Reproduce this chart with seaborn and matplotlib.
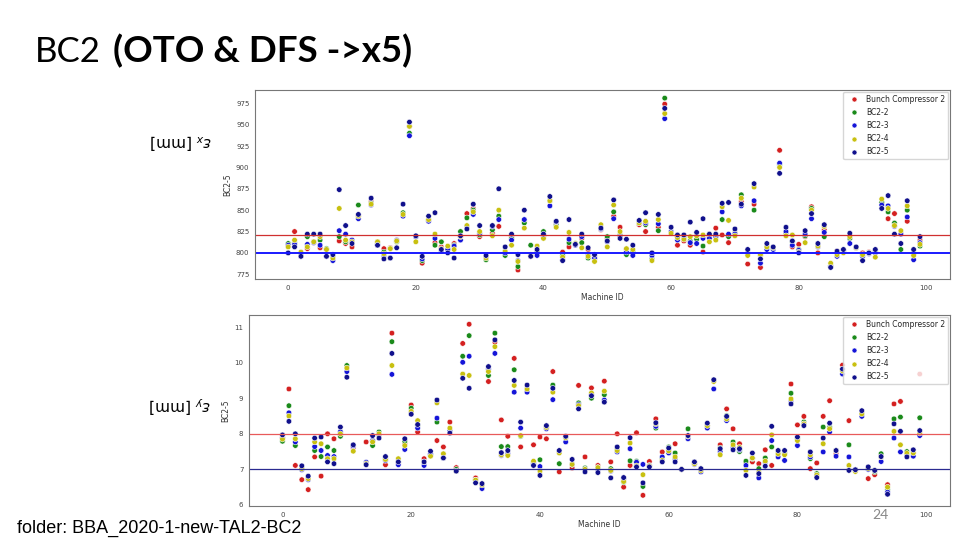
import numpy as np
import pandas as pd
import seaborn as sns
import matplotlib.pyplot as plt

# Machine IDs (ID 12 has no measurement)
machine_id = [i for i in range(100) if i != 12]

series_names = ["Bunch Compressor 2", "BC2-2", "BC2-3", "BC2-4", "BC2-5"]
series_colors = ["#d42020", "#1a8a1a", "#1515d8", "#c8c010", "#10108c"]

# top panel : one row per machine -> (BC2, BC2-2, BC2-3, BC2-4, BC2-5)
top_rows = [
    (808, 811, 809, 807, 800), (825, 812, 810, 815, 807), (796, 797, 796, 801, 796),
    (805, 819, 810, 807, 822), (812, 813, 812, 813, 822), (806, 815, 809, 819, 822),
    (804, 805, 796, 804, 796), (792, 796, 791, 794, 798), (814, 819, 826, 852, 874),
    (811, 813, 822, 815, 832), (807, 813, 815, 813, 811), (843, 856, 840, 843, 845),
    (860, 858, 856, 857, 864), (813, 811, 809, 813, 809), (805, 801, 797, 799, 793),
    (806, 805, 794, 805, 794), (813, 813, 815, 814, 806), (846, 847, 843, 845, 857),
    (948, 940, 937, 948, 953), (819, 819, 819, 813, 820), (788, 791, 793, 796, 796),
    (838, 839, 837, 839, 843), (812, 809, 817, 822, 847), (807, 813, 802, 805, 804),
    (804, 805, 804, 808, 800), (811, 809, 808, 804, 794), (819, 825, 815, 819, 820),
    (846, 841, 831, 832, 828), (852, 850, 845, 848, 857), (819, 821, 823, 825, 832),
    (796, 792, 796, 794, 797), (823, 827, 831, 820, 832), (831, 843, 839, 850, 875),
    (801, 797, 800, 802, 807), (819, 817, 815, 809, 822), (780, 784, 791, 790, 798),
    (837, 835, 839, 829, 850), (796, 809, 797, 798, 796), (799, 801, 797, 808, 804),
    (819, 825, 821, 817, 822), (861, 861, 855, 861, 866), (833, 833, 836, 830, 837),
    (801, 797, 792, 795, 791), (807, 812, 816, 824, 839), (811, 811, 809, 811, 810),
    (817, 812, 819, 806, 822), (804, 794, 798, 796, 806), (796, 793, 794, 790, 798),
    (827, 828, 828, 833, 829), (817, 819, 813, 807, 814), (843, 848, 840, 856, 862),
    (830, 821, 819, 825, 817), (804, 798, 801, 805, 816), (800, 802, 797, 804, 809),
    (833, 835, 837, 835, 838), (825, 833, 835, 837, 847), (800, 793, 797, 791, 800),
    (830, 826, 834, 839, 845), (974, 981, 957, 963, 969), (823, 823, 825, 823, 830),
    (809, 819, 815, 818, 821), (814, 819, 817, 816, 821), (809, 814, 812, 819, 836),
    (819, 816, 811, 820, 824), (801, 808, 817, 821, 840), (819, 822, 817, 813, 822),
    (829, 819, 819, 815, 822), (821, 839, 848, 854, 858), (812, 819, 822, 838, 859),
    (823, 823, 822, 820, 828), (860, 868, 855, 864, 857), (787, 800, 799, 797, 804),
    (857, 850, 861, 877, 881), (783, 797, 788, 798, 793), (807, 807, 804, 807, 811),
    (806, 806, 804, 806, 807), (920, 903, 905, 900, 893), (823, 823, 825, 820, 830),
    (807, 813, 809, 821, 814), (810, 804, 803, 801, 800), (819, 820, 822, 812, 826),
    (854, 852, 840, 850, 846), (800, 809, 807, 808, 811), (827, 819, 824, 831, 833),
    (785, 785, 784, 788, 783), (802, 800, 796, 798, 802), (802, 802, 803, 800, 804),
    (817, 817, 811, 819, 823), (806, 806, 806, 806, 807), (800, 798, 796, 798, 791),
    (801, 800, 799, 800, 800), (802, 802, 800, 795, 804), (859, 859, 856, 863, 852),
    (840, 848, 855, 852, 867), (846, 835, 831, 832, 822), (823, 804, 822, 826, 811),
    (837, 850, 842, 855, 861), (799, 800, 792, 797, 804), (815, 808, 812, 810, 819),
]

# bottom panel
bottom_rows = [
    (7.90, 7.79, 7.88, 7.85, 7.97), (9.26, 8.79, 8.59, 8.50, 8.35), (7.11, 7.67, 7.77, 7.86, 8.00),
    (6.71, 7.03, 6.99, 7.02, 7.10), (6.43, 6.77, 6.71, 6.74, 6.81), (7.35, 7.53, 7.64, 7.77, 7.88),
    (6.81, 7.36, 7.53, 7.72, 7.91), (8.00, 7.63, 7.39, 7.30, 7.21), (7.86, 7.53, 7.36, 7.30, 7.16),
    (8.02, 7.93, 8.06, 8.00, 8.19), (9.85, 9.92, 9.75, 9.85, 9.59), (7.60, 7.67, 7.65, 7.51, 7.69),
    (7.77, 7.16, 7.20, 7.16, 7.13), (7.80, 7.67, 7.81, 7.77, 7.95), (7.98, 8.05, 7.97, 8.00, 7.88),
    (7.13, 7.30, 7.25, 7.28, 7.36), (10.83, 10.59, 9.67, 9.92, 10.26), (7.18, 7.21, 7.13, 7.30, 7.21),
    (7.72, 7.79, 7.56, 7.67, 7.86), (8.81, 8.72, 8.60, 8.63, 8.55), (8.05, 8.23, 8.16, 8.37, 8.26),
    (7.30, 7.21, 7.11, 7.21, 7.21), (7.40, 7.43, 7.43, 7.37, 7.51), (7.81, 8.33, 8.44, 8.87, 8.95),
    (7.63, 7.32, 7.32, 7.44, 7.32), (8.33, 8.09, 8.09, 8.16, 8.02), (7.05, 7.00, 6.95, 6.95, 6.95),
    (10.54, 10.18, 10.01, 9.68, 9.56), (11.08, 10.76, 10.18, 9.64, 9.28), (6.76, 6.70, 6.70, 6.70, 6.62),
    (6.58, 6.58, 6.46, 6.56, 6.60), (9.47, 9.64, 9.82, 9.75, 9.89), (10.58, 10.83, 10.26, 10.45, 10.64),
    (8.39, 7.64, 7.39, 7.41, 7.47), (7.93, 7.64, 7.44, 7.39, 7.53), (10.12, 9.80, 9.17, 9.36, 9.50),
    (7.63, 7.93, 8.16, 7.95, 8.33), (9.22, 9.26, 9.17, 9.26, 9.37), (7.69, 7.20, 7.16, 7.23, 7.11),
    (7.91, 7.27, 7.08, 6.95, 6.83), (7.86, 8.19, 8.14, 8.18, 8.23), (9.75, 9.37, 8.96, 9.17, 9.28),
    (6.93, 7.16, 7.50, 7.46, 7.53), (7.91, 7.89, 7.77, 7.89, 7.93), (7.04, 7.14, 7.14, 7.14, 7.28),
    (9.36, 8.87, 8.82, 8.79, 8.70), (7.35, 7.04, 7.00, 7.00, 6.93), (9.29, 9.00, 9.10, 9.15, 9.07),
    (7.11, 7.05, 7.00, 7.05, 6.91), (9.48, 9.10, 8.95, 9.20, 8.89), (7.21, 7.02, 6.95, 6.97, 6.76),
    (8.00, 7.55, 7.49, 7.53, 7.63), (6.50, 6.64, 6.73, 6.66, 6.77), (7.11, 7.24, 7.58, 7.74, 7.89),
    (8.03, 7.23, 7.20, 7.10, 7.07), (6.27, 6.52, 7.14, 6.85, 6.62), (7.22, 7.10, 7.11, 7.10, 7.07),
    (8.42, 8.16, 8.21, 8.28, 8.31), (7.49, 7.30, 7.35, 7.25, 7.21), (7.55, 7.63, 7.46, 7.52, 7.60),
    (7.72, 7.46, 7.30, 7.35, 7.21), (7.00, 7.00, 7.00, 7.00, 7.00), (7.90, 8.14, 7.86, 7.93, 7.95),
    (7.16, 7.16, 7.14, 7.16, 7.21), (6.97, 7.02, 6.93, 6.97, 7.02), (8.23, 8.23, 8.16, 8.23, 8.30),
    (9.50, 9.50, 9.26, 9.47, 9.52), (7.69, 7.60, 7.50, 7.41, 7.58), (8.70, 8.51, 8.37, 8.42, 8.49),
    (8.14, 7.77, 7.62, 7.69, 7.55), (7.72, 7.50, 7.55, 7.62, 7.58), (7.20, 7.23, 7.11, 6.97, 6.83),
    (7.21, 7.30, 7.32, 7.32, 7.46), (7.16, 7.02, 6.76, 6.92, 6.88), (7.55, 7.32, 7.20, 7.23, 7.09),
    (7.11, 7.63, 7.81, 7.97, 8.21), (7.44, 7.44, 7.35, 7.44, 7.53), (7.44, 7.46, 7.25, 7.41, 7.53),
    (9.40, 9.14, 8.93, 8.98, 8.84), (8.25, 7.86, 7.67, 7.81, 7.91), (8.49, 8.33, 8.28, 8.28, 8.23),
    (7.02, 7.30, 7.35, 7.41, 7.49), (7.18, 6.88, 6.82, 6.84, 6.77), (8.49, 8.19, 7.49, 7.72, 7.88),
    (8.93, 8.19, 8.05, 8.14, 8.30), (7.44, 7.53, 7.37, 7.53, 7.53), (9.93, 9.82, 9.68, 9.77, 9.82),
    (8.37, 7.69, 7.35, 7.11, 6.97), (6.99, 6.99, 6.97, 6.94, 6.99), (8.56, 8.56, 8.49, 8.56, 8.65),
    (6.74, 7.03, 7.00, 7.03, 7.07), (6.85, 6.93, 6.97, 6.97, 6.97), (7.40, 7.44, 7.22, 7.35, 7.36),
    (6.57, 6.43, 6.36, 6.50, 6.30), (8.84, 8.42, 7.88, 8.07, 8.28), (8.91, 8.47, 7.49, 7.69, 8.07),
    (7.43, 7.50, 7.40, 7.45, 7.35), (7.46, 7.46, 7.37, 7.46, 7.55), (9.68, 8.45, 7.95, 8.02, 8.09),
]

top_refs = [(820.7, "#d03030", 0.9), (800, "#1a1aff", 1.4)]
bottom_refs = [(8.0, "#e85a5a", 0.9), (7.0, "#2a2a90", 0.9)]


def to_long(rows):
    df = pd.DataFrame(rows, columns=series_names)
    df["Machine ID"] = machine_id
    return df.melt(id_vars="Machine ID", var_name="serie", value_name="valeur")


sns.set_theme(style="white")
plt.rcParams["font.family"] = ["DejaVu Sans"]

fig = plt.figure(figsize=(9.6, 5.4), dpi=100)

ax1 = fig.add_axes([255 / 960, 1 - 279 / 540, 695 / 960, 189 / 540])
ax2 = fig.add_axes([249 / 960, 34 / 540, 701 / 960, 191 / 540])

panels = [
    (ax1, top_rows, top_refs, (769.5, 990.5), [775, 800, 825, 850, 875, 900, 925, 950, 975]),
    (ax2, bottom_rows, bottom_refs, (5.97, 11.34), [6, 7, 8, 9, 10, 11]),
]

for ax, rows, refs, ylim, yticks in panels:
    sns.scatterplot(data=to_long(rows), x="Machine ID", y="valeur", hue="serie",
                    palette=series_colors, s=16, edgecolor="white", linewidth=0.4, ax=ax)
    for yv, col, lw in refs:
        ax.axhline(yv, color=col, lw=lw, zorder=1)
    ax.set_xlim(-5.2, 103.7)
    ax.set_ylim(*ylim)
    ax.set_xticks([0, 20, 40, 60, 80, 100])
    ax.set_yticks(yticks)
    ax.tick_params(labelsize=5, colors="#444", length=2, width=0.5, pad=2)
    ax.set_xlabel("Machine ID", fontsize=5.5, color="#333", labelpad=1.5)
    ax.set_ylabel("BC2-5", fontsize=5.5, color="#333", labelpad=3)
    for sp in ax.spines.values():
        sp.set_color("#777")
        sp.set_linewidth(0.8)
    handles, labels = ax.get_legend_handles_labels()
    ax.legend(handles, labels, loc="upper right", fontsize=5.5, frameon=True,
              edgecolor="#ccc", borderaxespad=0.2, handletextpad=0.6,
              labelspacing=0.55, markerscale=0.9)

# slide texts
fig.text(35 / 960, 1 - 62 / 540, "BC2", fontsize=25, family="Lato", fontweight="normal",
         color="black")
fig.text(113 / 960, 1 - 62 / 540, "(OTO & DFS ->x5)", fontsize=26.5, family="Lato",
         fontweight="bold", color="black")
fig.text(181 / 960, 1 - 141 / 540, r"$\varepsilon_x$ [mm]", fontsize=11, rotation=180,
         ha="center", va="center", color="black")
fig.text(180 / 960, 1 - 404 / 540, r"$\varepsilon_y$ [mm]", fontsize=11, rotation=180,
         ha="center", va="center", color="black")
fig.text(17 / 960, 7 / 540, "folder: BBA_2020-1-new-TAL2-BC2", fontsize=13,
         family="Liberation Sans", color="black")
fig.text(880 / 960, 1 - 515 / 540, "24", fontsize=10, family="Lato", color="#888",
         ha="center", va="center")

fig.savefig("out.png", dpi=100)
